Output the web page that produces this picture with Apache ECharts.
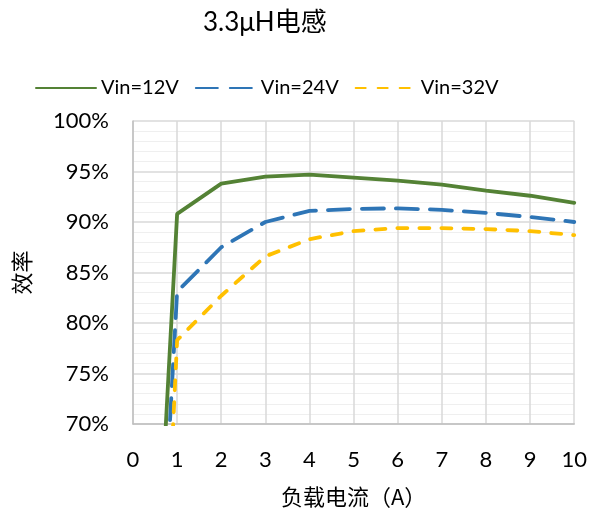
<!DOCTYPE html>
<html>
<head>
<meta charset="utf-8">
<script src="https://cdn.jsdelivr.net/npm/echarts@6/dist/echarts.min.js"></script>
<style>
  html, body { margin: 0; padding: 0; background: #fff; }
  #chart { width: 590px; height: 515px; }
</style>
</head>
<body>
<div id="chart"></div>
<script>
// Load current (A)
const loadCurrent = [0.5, 1, 2, 3, 4, 5, 6, 7, 8, 9, 10];
// Efficiency (%) per input voltage
const eff12V = [50.0, 90.8, 93.8, 94.5, 94.7, 94.4, 94.1, 93.7, 93.1, 92.6, 91.9];
const eff24V = [43.5, 83.1, 87.5, 90.0, 91.1, 91.3, 91.35, 91.2, 90.9, 90.5, 90.0];
const eff32V = [32.0, 78.3, 82.7, 86.6, 88.3, 89.1, 89.4, 89.4, 89.3, 89.1, 88.7];
const seriesNames = ['Vin=12V', 'Vin=24V', 'Vin=32V'];
const titleText = '3.3μH电感';
const xAxisName = '负载电流（A）';
const yAxisName = '效率';

const font = "Lato, 'Noto Sans CJK SC', sans-serif";
const cjkFont = "'Noto Sans CJK SC', sans-serif";
const pairs = ys => loadCurrent.map((x, i) => [x, ys[i]]);

const chart = echarts.init(document.getElementById('chart'));
chart.setOption({
  animation: false,
  title: {
    text: titleText,
    left: 198, top: 5,
    textStyle: { fontFamily: font, fontSize: 26, fontWeight: 'normal', color: '#000' }
  },
  legend: {
    top: 73, left: 30,
    itemWidth: 60, itemHeight: 14, itemGap: 16,
    itemStyle: { opacity: 0 },
    textStyle: { fontFamily: font, fontSize: 20, color: '#000' },
    data: seriesNames
  },
  grid: { left: 133, right: 14, top: 121, bottom: 91 },
  xAxis: {
    type: 'value', min: 0, max: 10, interval: 1,
    name: xAxisName, nameLocation: 'middle', nameGap: 62,
    nameTextStyle: { fontFamily: cjkFont, fontSize: 22, color: '#000' },
    axisLine: { show: true, lineStyle: { color: '#bfbfbf', width: 1.5 } },
    axisTick: { show: false },
    axisLabel: { fontFamily: font, fontSize: 22, color: '#000', margin: 25 },
    splitLine: { show: true, lineStyle: { color: '#d9d9d9', width: 1.5 } }
  },
  yAxis: {
    type: 'value', min: 70, max: 100, interval: 5,
    name: yAxisName, nameLocation: 'middle', nameGap: 100, nameRotate: 90,
    nameTextStyle: { fontFamily: cjkFont, fontSize: 22, color: '#000' },
    axisLine: { show: true, lineStyle: { color: '#bfbfbf', width: 1.5 } },
    axisTick: { show: false },
    axisLabel: { fontFamily: font, fontSize: 22, color: '#000', margin: 24, formatter: '{value}%' },
    splitLine: { show: true, lineStyle: { color: '#d9d9d9', width: 1.5 } },
    minorTick: { show: false, splitNumber: 5 },
    minorSplitLine: { show: true, lineStyle: { color: '#efefef', width: 1 } }
  },
  series: [
    {
      name: seriesNames[0], type: 'line', data: pairs(eff12V),
      symbol: 'none', clip: true, color: '#548235',
      lineStyle: { color: '#548235', width: 3.8, type: 'solid', cap: 'round' }
    },
    {
      name: seriesNames[1], type: 'line', data: pairs(eff24V),
      symbol: 'none', clip: true, color: '#2e75b6',
      lineStyle: { color: '#2e75b6', width: 3.8, type: [22, 12], cap: 'round' }
    },
    {
      name: seriesNames[2], type: 'line', data: pairs(eff32V),
      symbol: 'none', clip: true, color: '#ffc000',
      lineStyle: { color: '#ffc000', width: 3.8, type: [10, 12], cap: 'round' }
    }
  ]
});
</script>
</body>
</html>
